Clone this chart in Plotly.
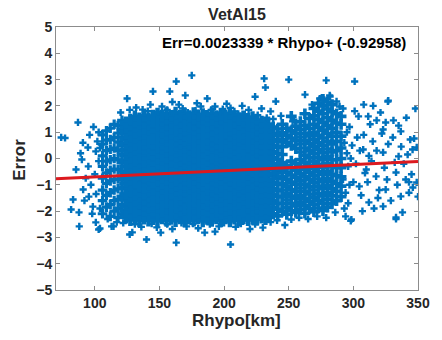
import plotly.graph_objects as go

# ---- data ----
# dense core: column x positions and the y values read in each column
core_x = [124, 127.5, 131, 134.5, 138, 141.5, 145, 148.5, 152, 155.5, 159, 162.5, 166, 169.5,
          173, 176.5, 180, 183.5, 187, 190.5, 194, 197.5, 201, 204.5, 208, 211.5, 215, 218.5,
          222, 225.5, 229, 232]
core_y = [
    [-2.22,-1.98,-1.8,-1.55,-1.37,-1.12,-0.95,-0.7,-0.52,-0.3,-0.08,0.12,0.33,0.55,0.74,0.98,1.2,1.35],
    [-2.32,-2.1,-1.9,-1.68,-1.47,-1.25,-1.03,-0.84,-0.62,-0.41,-0.2,0.02,0.22,0.44,0.63,0.86,1.07,1.28,1.45],
    [-2.2,-2.0,-1.78,-1.58,-1.36,-1.15,-0.93,-0.73,-0.5,-0.31,-0.1,0.11,0.32,0.53,0.75,0.95,1.16,1.38,1.57],
    [-2.35,-2.12,-1.91,-1.7,-1.48,-1.27,-1.05,-0.83,-0.63,-0.4,-0.2,0.01,0.21,0.43,0.64,0.85,1.06,1.27,1.5],
    [-2.26,-2.03,-1.82,-1.6,-1.39,-1.17,-0.96,-0.74,-0.53,-0.31,-0.1,0.12,0.33,0.54,0.76,0.96,1.18,1.4,1.62],
    [-2.33,-2.11,-1.9,-1.69,-1.47,-1.26,-1.04,-0.84,-0.61,-0.42,-0.2,0.0,0.23,0.42,0.65,0.84,1.07,1.28,1.5],
    [-2.24,-2.0,-1.79,-1.58,-1.37,-1.14,-0.95,-0.72,-0.53,-0.3,-0.11,0.12,0.31,0.54,0.73,0.97,1.17,1.37,1.6],
    [-2.36,-2.13,-1.9,-1.68,-1.48,-1.25,-1.05,-0.82,-0.62,-0.4,-0.21,0.02,0.21,0.44,0.62,0.86,1.05,1.27,1.49,1.68],
    [-2.25,-2.02,-1.8,-1.59,-1.36,-1.16,-0.94,-0.74,-0.51,-0.32,-0.09,0.1,0.33,0.52,0.75,0.94,1.17,1.38,1.6],
    [-2.34,-2.12,-1.89,-1.7,-1.46,-1.27,-1.04,-0.83,-0.63,-0.41,-0.19,0.01,0.23,0.42,0.64,0.85,1.06,1.29,1.48,1.7],
    [-2.27,-2.01,-1.81,-1.57,-1.38,-1.15,-0.93,-0.75,-0.52,-0.3,-0.1,0.13,0.32,0.53,0.76,0.95,1.16,1.39,1.59],
    [-2.35,-2.1,-1.91,-1.67,-1.47,-1.26,-1.05,-0.82,-0.62,-0.42,-0.2,0.02,0.2,0.43,0.65,0.84,1.07,1.26,1.5,1.72],
    [-2.23,-2.0,-1.78,-1.59,-1.35,-1.16,-0.94,-0.72,-0.52,-0.31,-0.08,0.11,0.34,0.53,0.74,0.96,1.15,1.38,1.6],
    [-2.36,-2.11,-1.9,-1.69,-1.48,-1.25,-1.04,-0.84,-0.61,-0.4,-0.21,0.0,0.22,0.44,0.63,0.86,1.05,1.28,1.48,1.68],
    [-2.26,-2.02,-1.8,-1.58,-1.37,-1.14,-0.95,-0.73,-0.51,-0.32,-0.1,0.12,0.31,0.55,0.74,0.95,1.17,1.36,1.58],
    [-2.33,-2.12,-1.89,-1.7,-1.46,-1.27,-1.03,-0.83,-0.63,-0.41,-0.19,0.03,0.21,0.42,0.64,0.84,1.06,1.28,1.49,1.7],
    [-2.24,-2.01,-1.79,-1.57,-1.38,-1.15,-0.93,-0.74,-0.52,-0.3,-0.1,0.11,0.33,0.52,0.75,0.95,1.16,1.39,1.6],
    [-2.36,-2.1,-1.91,-1.68,-1.47,-1.26,-1.05,-0.82,-0.62,-0.42,-0.2,0.01,0.22,0.43,0.63,0.86,1.05,1.27,1.5,1.66],
    [-2.27,-2.03,-1.8,-1.59,-1.36,-1.16,-0.94,-0.73,-0.53,-0.31,-0.09,0.12,0.32,0.54,0.73,0.96,1.17,1.37,1.59],
    [-2.34,-2.11,-1.9,-1.67,-1.48,-1.25,-1.04,-0.83,-0.61,-0.4,-0.21,0.02,0.21,0.42,0.65,0.85,1.06,1.29,1.48,1.69],
    [-2.25,-2.0,-1.81,-1.58,-1.37,-1.14,-0.95,-0.72,-0.52,-0.3,-0.1,0.1,0.34,0.53,0.74,0.94,1.16,1.38,1.58],
    [-2.35,-2.12,-1.89,-1.69,-1.46,-1.26,-1.03,-0.84,-0.62,-0.41,-0.19,0.01,0.23,0.44,0.64,0.84,1.07,1.27,1.5,1.67],
    [-2.23,-2.02,-1.79,-1.58,-1.38,-1.15,-0.93,-0.74,-0.51,-0.31,-0.1,0.13,0.32,0.52,0.75,0.96,1.15,1.37,1.6],
    [-2.36,-2.11,-1.91,-1.68,-1.47,-1.27,-1.04,-0.82,-0.63,-0.4,-0.2,0.0,0.22,0.43,0.63,0.85,1.06,1.28,1.49,1.7],
    [-2.26,-2.01,-1.8,-1.59,-1.36,-1.16,-0.95,-0.73,-0.52,-0.32,-0.09,0.11,0.31,0.54,0.74,0.95,1.17,1.38,1.58],
    [-2.33,-2.1,-1.9,-1.67,-1.48,-1.25,-1.05,-0.83,-0.61,-0.42,-0.2,0.02,0.21,0.42,0.65,0.84,1.05,1.28,1.5],
    [-2.24,-2.03,-1.78,-1.58,-1.37,-1.14,-0.94,-0.72,-0.53,-0.3,-0.11,0.12,0.33,0.53,0.73,0.96,1.16,1.36,1.57],
    [-2.32,-2.12,-1.89,-1.69,-1.46,-1.26,-1.03,-0.84,-0.62,-0.41,-0.19,0.01,0.22,0.44,0.64,0.86,1.07,1.27,1.48],
    [-2.27,-2.0,-1.81,-1.57,-1.38,-1.15,-0.93,-0.74,-0.51,-0.31,-0.1,0.1,0.32,0.52,0.75,0.94,1.15,1.38,1.55],
    [-2.3,-2.1,-1.9,-1.68,-1.47,-1.27,-1.04,-0.82,-0.63,-0.4,-0.21,0.02,0.23,0.43,0.63,0.85,1.06,1.28,1.45],
    [-2.22,-2.02,-1.79,-1.59,-1.36,-1.16,-0.95,-0.73,-0.52,-0.32,-0.09,0.11,0.31,0.54,0.74,0.95,1.16,1.37],
    [-2.28,-2.08,-1.87,-1.66,-1.45,-1.24,-1.03,-0.82,-0.61,-0.4,-0.19,0.02,0.23,0.44,0.65,0.86,1.07,1.28],
]

# left, less dense band
left_x = [106, 109, 112, 115, 118, 121]
left_y = [
    [-2.1,-1.6,-1.2,-0.75,-0.3,0.1,0.55,0.9],
    [-1.85,-1.4,-0.95,-0.55,-0.1,0.3,0.7,1.05],
    [-2.2,-1.75,-1.3,-0.85,-0.45,-0.05,0.35,0.72,1.15],
    [-2.0,-1.6,-1.2,-0.8,-0.4,0.0,0.4,0.8,1.3],
    [-2.25,-1.9,-1.55,-1.15,-0.78,-0.42,-0.05,0.3,0.62,0.97,1.25],
    [-2.1,-1.75,-1.45,-1.12,-0.8,-0.48,-0.15,0.18,0.5,0.82,1.1,1.45],
]

# right, medium density band
right_x = [234.5, 238, 241.5, 245, 248.5, 252, 255.5, 259, 262.5, 266, 269.5, 273, 276.5, 280, 283.5, 287, 290.5]
right_y = [
    [-2.2,-1.95,-1.72,-1.5,-1.26,-1.02,-0.8,-0.56,-0.33,-0.1,0.14,0.37,0.6,0.84,1.06,1.3],
    [-2.1,-1.85,-1.6,-1.36,-1.13,-0.9,-0.66,-0.43,-0.2,0.03,0.26,0.5,0.73,0.97,1.2],
    [-2.18,-1.93,-1.7,-1.45,-1.22,-0.98,-0.75,-0.52,-0.28,-0.05,0.18,0.42,0.65,0.88,1.12],
    [-2.0,-1.72,-1.45,-1.2,-0.95,-0.68,-0.42,-0.15,0.15,0.45,0.72,0.98,1.3],
    [-2.12,-1.86,-1.58,-1.32,-1.05,-0.8,-0.52,-0.28,0.6,0.88,1.15],
    [-1.98,-1.7,-1.43,-1.18,-0.9,-0.63,-0.36,-0.1,0.5,0.78,1.05,1.6],
    [-2.05,-1.8,-1.52,-1.25,-0.98,-0.72,-0.45,-0.2,0.38,0.68,0.95,1.22],
    [-1.95,-1.66,-1.4,-1.12,-0.85,-0.58,-0.3,-0.04,0.25,0.55,0.82,1.1,1.4],
    [-2.08,-1.8,-1.53,-1.25,-0.98,-0.7,-0.43,-0.15,0.12,0.4,0.68,0.96,1.25,1.7],
    [-1.9,-1.62,-1.35,-1.08,-0.8,-0.52,-0.25,0.03,0.3,0.58,0.86,1.15,1.52],
    [-2.02,-1.75,-1.47,-1.2,-0.92,-0.65,-0.38,-0.1,0.18,0.45,0.72,1.0,1.3,1.62,1.9],
    [-1.88,-1.6,-1.33,-1.05,-0.78,-0.5,-0.22,0.05,0.33,0.6,0.88,1.18,1.48,1.8,2.1],
    [-1.98,-1.7,-1.42,-1.15,-0.88,-0.6,-0.33,-0.05,0.22,0.5,0.78,1.08,1.38,1.7,2.0,2.25],
    [-1.85,-1.57,-1.3,-1.02,-0.75,-0.48,-0.2,0.08,0.36,0.65,0.95,1.25,1.55,1.88,2.15],
    [-1.72,-1.42,-1.15,-0.87,-0.6,-0.32,-0.05,0.25,0.55,0.85,1.15,1.45,1.78,2.05],
    [-1.6,-1.25,-0.95,-0.65,-0.35,-0.05,0.3,0.65,1.0,1.35,1.7],
    [-1.45,-1.05,-0.7,-0.35,0.0,0.4,0.85,1.3,1.6],
]

# isolated points: upper fringe
top_x = [125, 145, 158, 163, 175, 170, 187, 231, 232, 250, 279, 301, 327, 224, 240, 202, 132, 308, 274, 282,
         236, 137, 152, 165, 182, 193, 208, 216, 253, 120, 127, 141, 149, 156, 161, 168, 172, 178, 185,
         190, 197, 205, 211, 219, 226, 233, 238, 244, 214, 199, 160, 143, 179, 229]
top_y = [2.28, 2.55, 2.55, 2.93, 3.16, 2.4, 2.28, 3.04, 2.7, 3.0, 2.97, 2.93, 2.2, 2.35, 2.17, 2.08, 1.94, 2.05, 2.28, 2.36,
         1.79, 1.86, 1.98, 2.05, 1.98, 1.98, 1.79, 1.67, 1.41, 1.75, 1.85, 1.8, 1.78, 1.85, 1.72, 1.9, 1.75, 1.82, 1.7,
         1.85, 1.75, 1.92, 1.7, 1.85, 1.65, 1.55, 1.5, 1.62, 2.0, 1.88, 2.15, 2.05, 2.1, 1.9]

# isolated points: lower fringe
bot_x = [88, 140, 163, 205, 127, 151, 185, 193, 220, 230, 247, 298, 333, 104, 113, 129, 122, 131, 136, 144,
         148, 156, 160, 167, 171, 176, 180, 189, 196, 200, 209, 213, 224, 236, 241, 252, 258, 265, 272, 279,
         286, 117, 110]
bot_y = [-2.58, -3.08, -3.2, -3.27, -2.89, -2.82, -2.82, -2.78, -2.68, -2.63, -2.53, -2.37, -2.3, -2.66, -2.58, -2.81,
         -2.45, -2.5, -2.6, -2.48, -2.62, -2.5, -2.68, -2.45, -2.58, -2.48, -2.65, -2.5, -2.58, -2.45, -2.6, -2.48,
         -2.5, -2.42, -2.35, -2.32, -2.25, -2.3, -2.2, -2.25, -2.05, -2.42, -2.3]

# isolated points: short distances (left side)
near_x = [74, 77, 87, 90.8, 94.7, 85.5, 91, 83.2, 81.7, 87.8, 100.8, 103, 114.5, 95.4, 98.5, 90, 100.8, 103,
          96, 99, 102, 93, 97, 101, 104, 89, 95, 100, 103, 98, 92, 104]
near_y = [0.8, 0.78, 1.37, 0.6, 0.42, -0.42, -1.18, -1.56, -1.94, -2.05, -2.43, -2.7, -2.58, -1.45, -1.83, -0.04,
          0.27, -0.1, 0.9, 1.2, 0.65, -0.75, -1.0, -1.35, -1.9, 0.2, -0.3, -0.6, 1.0, -2.1, -1.6, 0.4]

# isolated points: long distances (right side)
far_x = [262.6, 268, 275.6, 281.7, 287, 289.3, 315.3, 326.7, 311.5, 254, 323, 336.7, 344, 325, 315, 330.5, 345.8,
         349, 307.6, 323, 335, 317.6, 333, 340.5, 349, 325, 336.7, 323, 333, 312, 304.6, 310, 298.5,
         297, 299, 302, 304, 306, 308, 311, 313, 316, 318, 320, 321, 324, 327, 329, 331, 334, 337, 339,
         341, 343, 345, 347, 350, 343, 296, 300, 303, 307, 314, 319, 322, 326, 332, 335, 338, 342, 346,
         348, 318, 312, 309, 305, 298, 301, 294,
         292, 293, 294, 295, 296, 293, 295, 292, 297]
far_y = [2.43, 2.05, 2.32, 2.4, 2.17, 1.98, 2.0, 2.17, 1.6, 1.48, 1.1, 1.03, 0.72, 1.37, 0.65, 0.8, 0.34,
         0.42, 0.34, 0.23, 0.08, -0.68, -0.53, -0.8, -0.91, -1.18, -1.44, -1.82, -2.24, -1.67, -1.06, -0.42, -2.32,
         1.2, 0.5, -0.2, 1.6, -1.4, 0.9, -0.9, 1.3, -1.9, 0.3, -1.2, 1.75, -0.35, 0.55, -1.6, 1.45, -1.0, 0.45, -0.2,
         1.55, -1.3, -0.6, 0.76, -1.45, -0.9, -1.7, -0.9, 0.8, -2.0, -0.1, -1.5, 0.95, -0.8, -0.15, 1.25, -2.05, 0.15, -1.1,
         1.9, 1.45, 0.1, -0.55, 0.3, 0.0, 1.8, -2.2,
         -0.8, 0.6, -1.3, 1.0, -0.3, -1.9, 0.2, 1.9, -1.0]

# regression line read from the annotation
slope = 0.0023339
intercept = -0.92958
fit_x = [70, 350]

# ---- assemble ----
def flatten(cols_x, cols_y):
    fx, fy = [], []
    for cx, cy in zip(cols_x, cols_y):
        for v in cy:
            fx.append(cx)
            fy.append(v)
    return fx, fy

dense_x, dense_y = flatten(core_x, core_y)
lband_x, lband_y = flatten(left_x, left_y)
rband_x, rband_y = flatten(right_x, right_y)
iso_x = top_x + bot_x + near_x + far_x
iso_y = top_y + bot_y + near_y + far_y
fit_y = [slope * v + intercept for v in fit_x]

FONT = "Liberation Sans, Arial, sans-serif"
DARK = "#262626"
AX = "#8c8c8c"
BLUE = "#0072BD"

fig = go.Figure()
for px_, py_, sz in [(lband_x, lband_y, 8), (rband_x, rband_y, 9), (dense_x, dense_y, 11), (iso_x, iso_y, 6)]:
    fig.add_trace(go.Scatter(
        x=px_, y=py_, mode="markers",
        marker=dict(symbol="cross", size=sz, color=BLUE, line=dict(width=0)),
        showlegend=False, hoverinfo="skip"))
fig.add_trace(go.Scatter(
    x=fit_x, y=fit_y, mode="lines",
    line=dict(color="#dc1a1f", width=3), showlegend=False))

axis_common = dict(
    showline=True, linecolor=AX, linewidth=1, mirror="ticks",
    ticks="inside", ticklen=4, tickcolor=AX, tickwidth=1,
    showgrid=False, zeroline=False,
    tickfont=dict(family=FONT, size=14, color=DARK, weight="bold"),
)
fig.update_xaxes(range=[70, 350], tickmode="array", tickvals=[100, 150, 200, 250, 300, 350], **axis_common)
fig.update_yaxes(range=[-5, 5], tickmode="array", tickvals=list(range(-5, 6)), **axis_common)

fig.update_layout(
    width=442, height=340,
    margin=dict(l=56, r=17, t=27, b=50),
    paper_bgcolor="white", plot_bgcolor="white",
    title=dict(text="VetAl15", x=0.5, xref="paper", xanchor="center",
               y=1 - 14 / 340, yanchor="middle",
               font=dict(family=FONT, size=16, color=DARK, weight="bold")),
    annotations=[
        dict(text="Err=0.0023339 * Rhypo+ (-0.92958)", xref="paper", yref="paper",
             x=(415 - 56) / 369, y=1 - (43 - 27) / 263, xanchor="right", yanchor="middle",
             showarrow=False, font=dict(family=FONT, size=15, color="black", weight="bold")),
        dict(text="Error", xref="paper", yref="paper", x=(18 - 56) / 369, y=(290 - 160) / 263,
             xanchor="center", yanchor="middle", textangle=-90, showarrow=False,
             font=dict(family=FONT, size=17, color=DARK, weight="bold")),
        dict(text="Rhypo[km]", xref="paper", yref="paper", x=(240 - 56) / 369, y=-(320 - 290) / 263,
             xanchor="center", yanchor="middle", showarrow=False,
             font=dict(family=FONT, size=17, color=DARK, weight="bold")),
    ],
)

fig.write_html("out.html")
